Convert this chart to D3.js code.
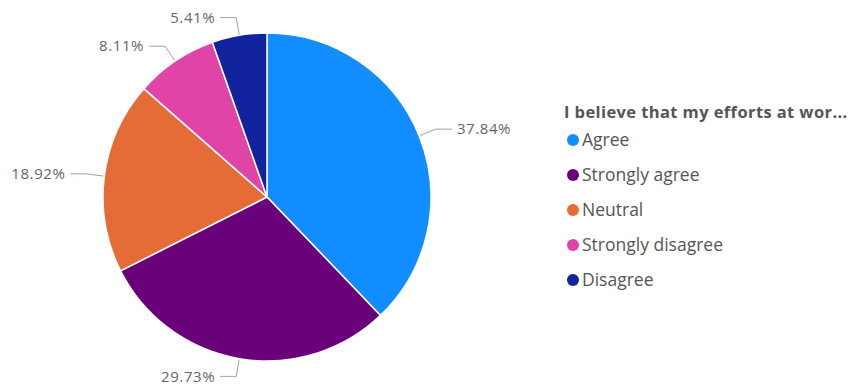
<!DOCTYPE html>
<html>
<head>
<meta charset="utf-8">
<script src="https://cdn.jsdelivr.net/npm/d3@7"></script>
<style>
  html, body { margin: 0; padding: 0; background: #fff; }
  svg { display: block; font-family: "Segoe UI", "Open Sans", "Noto Sans", sans-serif; }
</style>
</head>
<body>
<svg id="chart" width="851" height="390"></svg>
<script>
// Survey responses
const categories = ["Agree", "Strongly agree", "Neutral", "Strongly disagree", "Disagree"];
const counts = [14, 11, 7, 3, 2];
const colors = ["#118DFF", "#6B007B", "#E66C37", "#E044A7", "#12239E"];
const legendTitle = "I believe that my efforts at wor...";

const data = categories.map((c, i) => ({ name: c, value: counts[i], color: colors[i] }));
const total = d3.sum(counts);

const svg = d3.select("#chart");
const cx = 267, cy = 197, r = 164;

const pie = d3.pie().sort(null).value(d => d.value);
const arc = d3.arc().innerRadius(0).outerRadius(r);
const arcs = pie(data);

const g = svg.append("g").attr("transform", `translate(${cx},${cy})`);

g.selectAll("path.slice")
  .data(arcs)
  .enter().append("path")
  .attr("class", "slice")
  .attr("d", arc)
  .attr("fill", d => d.data.color)
  .attr("stroke", "#fff")
  .attr("stroke-width", 1.5);

// Leader lines and percentage labels
const fmt = d3.format(".2f");
const pt = (a, rad) => [Math.sin(a) * rad, -Math.cos(a) * rad];

arcs.forEach(d => {
  const mid = (d.startAngle + d.endAngle) / 2;
  const p0 = pt(mid, r + 1);
  const p1 = pt(mid, r + 18);
  const right = Math.sin(mid) >= 0;
  const p2 = [p1[0] + (right ? 16 : -16), p1[1]];
  g.append("polyline")
    .attr("points", [p0, p1, p2].map(p => p.join(",")).join(" "))
    .attr("fill", "none")
    .attr("stroke", "#a0a0a0")
    .attr("stroke-width", 1);
  g.append("text")
    .attr("x", p2[0] + (right ? 5 : -5))
    .attr("y", p2[1])
    .attr("dy", "0.35em")
    .attr("text-anchor", right ? "start" : "end")
    .attr("fill", "#666")
    .attr("font-size", 15)
    .attr("letter-spacing", 0.6)
    .text(fmt(d.data.value / total * 100) + "%");
});

// Legend
const legend = svg.append("g").attr("transform", "translate(563,0)");
legend.append("text")
  .attr("x", 1).attr("y", 112)
  .attr("dy", "0.35em")
  .attr("font-size", 16.5)
  .attr("font-weight", "bold")
  .attr("letter-spacing", 0.4)
  .attr("fill", "#555")
  .text(legendTitle);

const items = legend.selectAll("g.item")
  .data(data)
  .enter().append("g")
  .attr("class", "item")
  .attr("transform", (d, i) => `translate(0,${140 + i * 35})`);
items.append("circle")
  .attr("cx", 10).attr("cy", 0).attr("r", 6)
  .attr("fill", d => d.color);
items.append("text")
  .attr("x", 19).attr("y", 0)
  .attr("dy", "0.35em")
  .attr("font-size", 17.5)
  .attr("fill", "#555")
  .text(d => d.name);
</script>
</body>
</html>
